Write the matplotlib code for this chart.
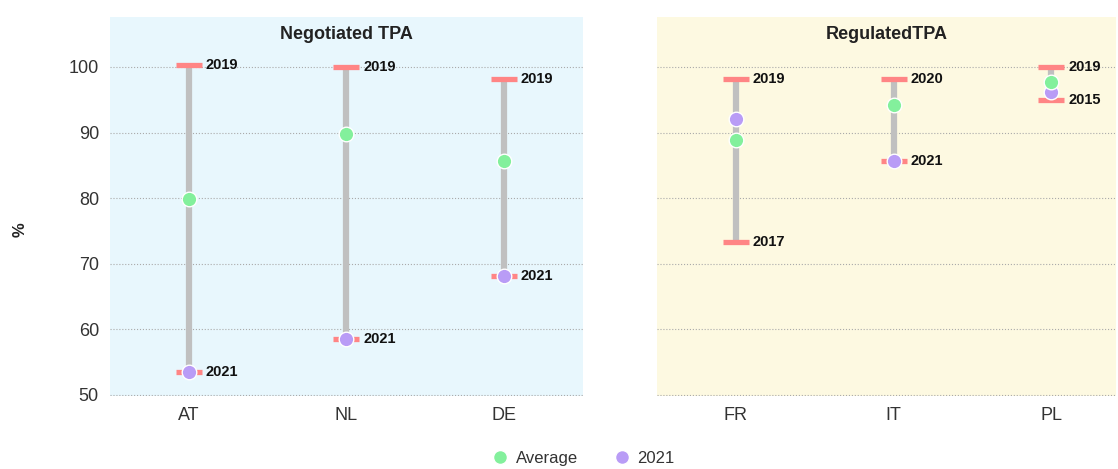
import matplotlib
import matplotlib.pyplot as plt
from matplotlib.lines import Line2D

matplotlib.use("Agg")

plt.rcParams["font.family"] = ["Liberation Sans Narrow", "Liberation Sans", "DejaVu Sans"]

# data
neg_countries = ["AT", "NL", "DE"]
neg_max = [100.3, 100.0, 98.2]
neg_max_year = ["2019", "2019", "2019"]
neg_min = [53.5, 58.5, 68.2]
neg_min_year = ["2021", "2021", "2021"]
neg_avg = [79.9, 89.7, 85.6]
neg_2021 = [53.5, 58.5, 68.2]

reg_countries = ["FR", "IT", "PL"]
reg_max = [98.2, 98.2, 100.0]
reg_max_year = ["2019", "2020", "2019"]
reg_min = [73.3, 85.7, 95.0]
reg_min_year = ["2017", "2021", "2015"]
reg_avg = [88.9, 94.2, 97.7]
reg_2021 = [92.1, 85.7, 96.2]

GREEN = "#83f09c"
PURPLE = "#b99cf6"
CAP = "#ff8585"
STEM = "#c0c0c0"

fig = plt.figure(figsize=(11.18, 4.69), dpi=100)
ax1 = fig.add_axes([0.0984, 0.1557, 0.423, 0.808])
ax2 = fig.add_axes([0.5877, 0.1557, 0.4106, 0.808])


def draw_panel(ax, countries, vmax, max_years, vmin, min_years, avg, v2021, title, bg, xmax):
    x = list(range(len(countries)))
    ax.set_facecolor(bg)
    ax.vlines(x, vmin, vmax, color=STEM, linewidth=4.5, zorder=2)
    ax.plot(x, vmax, linestyle="none", marker="_", markersize=19, markeredgewidth=3.8,
            color=CAP, zorder=3)
    ax.plot(x, vmin, linestyle="none", marker="_", markersize=19, markeredgewidth=3.8,
            color=CAP, zorder=3)
    ax.plot(x, avg, linestyle="none", marker="o", markersize=10.5, markerfacecolor=GREEN,
            markeredgecolor="white", markeredgewidth=1, zorder=5)
    ax.plot(x, v2021, linestyle="none", marker="o", markersize=10.5, markerfacecolor=PURPLE,
            markeredgecolor="white", markeredgewidth=1, zorder=4)
    for xi, v, yr in zip(x, vmax, max_years):
        ax.annotate(yr, (xi, v), xytext=(12, 0), textcoords="offset points",
                    va="center", ha="left", fontsize=10.5, fontweight="bold", color="#111111")
    for xi, v, yr in zip(x, vmin, min_years):
        ax.annotate(yr, (xi, v), xytext=(12, 0), textcoords="offset points",
                    va="center", ha="left", fontsize=10.5, fontweight="bold", color="#111111")

    ax.set_xlim(-0.5, xmax)
    ax.set_ylim(49.85, 107.6)
    ax.set_yticks([50, 60, 70, 80, 90, 100])
    ax.set_xticks(x)
    ax.set_xticklabels(countries)
    ax.grid(axis="y", color="#aaaaaa", linestyle=":", linewidth=0.8)
    ax.set_axisbelow(True)
    for s in ax.spines.values():
        s.set_visible(False)
    ax.tick_params(axis="both", length=0, labelsize=13, colors="#333333", pad=8)
    ax.text(0.5, 0.955, title, transform=ax.transAxes, ha="center", va="center",
            fontsize=13, fontweight="bold", color="#222222")


draw_panel(ax1, neg_countries, neg_max, neg_max_year, neg_min, neg_min_year, neg_avg, neg_2021,
           "Negotiated TPA", "#e8f7fd", 2.5)
draw_panel(ax2, reg_countries, reg_max, reg_max_year, reg_min, reg_min_year, reg_avg, reg_2021,
           "RegulatedTPA", "#fdf9e1", 2.41)
ax2.tick_params(axis="y", labelleft=False)
ax1.set_ylabel("%", fontsize=12, fontweight="bold", color="#222222")
ax1.yaxis.set_label_coords(-0.174, 0.438)

handles = [
    Line2D([], [], linestyle="none", marker="o", markersize=10, markerfacecolor=GREEN,
           markeredgecolor="white", label="Average"),
    Line2D([], [], linestyle="none", marker="o", markersize=10, markerfacecolor=PURPLE,
           markeredgecolor="white", label="2021"),
]
fig.legend(handles=handles, loc="center", bbox_to_anchor=(0.521, 0.022), ncol=2, frameon=False,
           fontsize=12, handletextpad=0.35, columnspacing=2.0, handlelength=1.2,
           labelcolor="#333333")

fig.savefig("out.png", dpi=100)
